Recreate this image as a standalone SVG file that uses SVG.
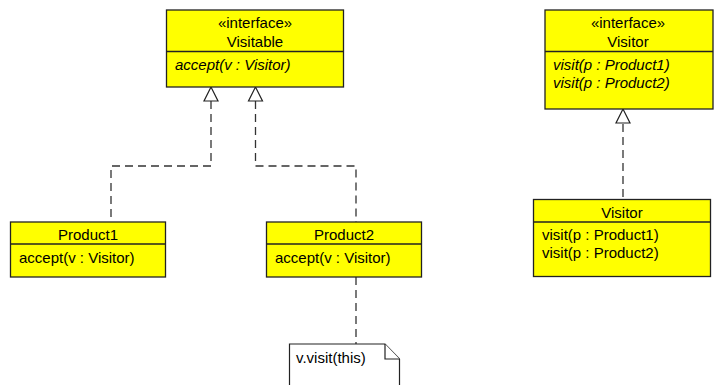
<svg xmlns="http://www.w3.org/2000/svg" width="714" height="385" viewBox="0 0 714 385">
<style>
.box{fill:#ffff00;stroke:#222;stroke-width:1.3}
.div{stroke:#222;stroke-width:1.3}
.t{font-family:"Liberation Sans",Arial,sans-serif;font-size:15px;fill:#000}
.c{text-anchor:middle}
.i{font-style:italic}
.dash{fill:none;stroke:#333;stroke-width:1.3;stroke-dasharray:8,5}
.tri{fill:#fff;stroke:#222;stroke-width:1.2}
.note{fill:#fff;stroke:#222;stroke-width:1.2}
</style>
<g id="connectors">
<path class="dash" d="M211,101 V166 H111 V222"/>
<path class="dash" d="M255.5,101 V166 H356 V222"/>
<path class="dash" d="M623,124 V199"/>
<path class="dash" d="M356,277 V344"/>
<polygon class="tri" points="211,87 204,101 218,101"/>
<polygon class="tri" points="255.5,87 248.5,101 262.5,101"/>
<polygon class="tri" points="623,109 616,123 630,123"/>
</g>
<g id="Visitable">
<rect class="box" x="166.5" y="10" width="177" height="77"/>
<line class="div" x1="166.5" y1="51.5" x2="343.5" y2="51.5"/>
<text class="t c" x="255" y="28">«interface»</text>
<text class="t c" x="255" y="47">Visitable</text>
<text class="t i" x="175" y="70">accept(v : Visitor)</text>
</g>
<g id="VisitorInterface">
<rect class="box" x="545" y="10" width="168" height="99"/>
<line class="div" x1="545" y1="51.5" x2="713" y2="51.5"/>
<text class="t c" x="628" y="28">«interface»</text>
<text class="t c" x="628" y="47">Visitor</text>
<text class="t i" x="553" y="70">visit(p : Product1)</text>
<text class="t i" x="553" y="88">visit(p : Product2)</text>
</g>
<g id="Product1">
<rect class="box" x="10.5" y="222" width="155" height="55"/>
<line class="div" x1="10.5" y1="244" x2="165.5" y2="244"/>
<text class="t c" x="88" y="240">Product1</text>
<text class="t" x="19" y="263">accept(v : Visitor)</text>
</g>
<g id="Product2">
<rect class="box" x="266.5" y="222" width="155" height="55"/>
<line class="div" x1="266.5" y1="244" x2="421.5" y2="244"/>
<text class="t c" x="344" y="240">Product2</text>
<text class="t" x="275" y="263">accept(v : Visitor)</text>
</g>
<g id="VisitorClass">
<rect class="box" x="533.5" y="199.5" width="177" height="77"/>
<line class="div" x1="533.5" y1="222" x2="710.5" y2="222"/>
<text class="t c" x="622" y="218">Visitor</text>
<text class="t" x="542" y="240">visit(p : Product1)</text>
<text class="t" x="542" y="258">visit(p : Product2)</text>
</g>
<g id="Note">
<path class="note" d="M289.5,386 V344 H385 L399.5,359 V386"/>
<path class="note" d="M385,344 V359 H399.5"/>
<text class="t" x="296" y="363">v.visit(this)</text>
</g>
</svg>
